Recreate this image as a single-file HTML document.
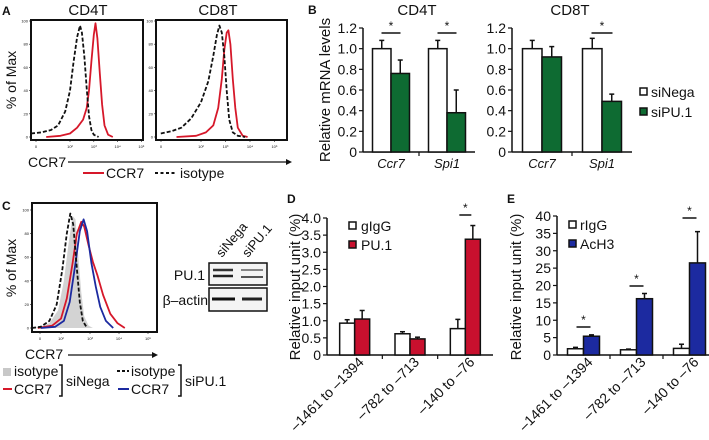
<!DOCTYPE html>
<html><head><meta charset="utf-8"><style>
html,body{margin:0;padding:0;background:#fff;}
svg{display:block;font-family:"Liberation Sans",Arial,sans-serif;}
</style></head><body>
<svg id="fig" width="709" height="440" viewBox="0 0 709 440" xmlns="http://www.w3.org/2000/svg"></svg>
<script>
// ---------- DATA ----------
const aCD4Iso=[[0.36,3],[0.8,4],[1.2,6],[1.5,10],[1.8,22],[2.0,40],[2.15,65],[2.3,86],[2.42,96],[2.5,90],[2.6,70],[2.7,42],[2.8,18],[2.9,6],[3.0,2],[3.2,0]];
const aCD4CCR7=[[1.0,0],[1.6,1],[2.0,3],[2.3,8],[2.55,15],[2.7,25],[2.8,40],[2.9,65],[3.0,88],[3.07,98],[3.15,85],[3.25,55],[3.35,28],[3.45,10],[3.6,2],[3.8,0]];
const aCD8Iso=[[0.36,3],[0.8,5],[1.2,8],[1.6,16],[2.0,30],[2.3,48],[2.5,70],[2.65,88],[2.75,96],[2.85,90],[2.95,70],[3.05,40],[3.15,15],[3.3,4],[3.5,1],[3.8,0]];
const aCD8CCR7=[[1.0,0],[1.8,1],[2.2,4],[2.5,10],[2.7,25],[2.85,50],[2.95,75],[3.05,90],[3.12,92],[3.2,80],[3.3,50],[3.4,25],[3.5,8],[3.7,1],[3.9,0]];
const cNegaIso=[[1.0,0],[1.3,1],[1.6,4],[1.9,15],[2.1,40],[2.25,70],[2.4,95],[2.5,92],[2.6,60],[2.7,30],[2.8,10],[2.95,2],[3.1,0]];
const cNegaCCR7=[[1.2,0],[1.7,2],[2.0,8],[2.2,25],[2.4,55],[2.55,80],[2.7,90],[2.8,86],[2.95,70],[3.1,56],[3.25,45],[3.45,28],[3.7,12],[3.95,4],[4.2,0]];
const cPUIso=[[1.0,0],[1.3,1],[1.6,6],[1.85,20],[2.05,50],[2.2,80],[2.32,97],[2.42,88],[2.55,50],[2.65,22],[2.75,6],[2.9,0]];
const cPUCCR7=[[1.3,0],[1.8,1],[2.1,6],[2.3,22],[2.5,55],[2.65,82],[2.78,92],[2.9,82],[3.05,55],[3.2,35],[3.35,18],[3.55,6],[3.8,0]];
const bGenes=["Ccr7","Spi1"];
const bCD4Nega=[1.0,1.0], bCD4NegaErr=[0.08,0.08];
const bCD4PU=[0.76,0.38], bCD4PUErr=[0.13,0.22];
const bCD8Nega=[1.0,1.0], bCD8NegaErr=[0.08,0.1];
const bCD8PU=[0.92,0.49], bCD8PUErr=[0.1,0.07];
const bTicks=["0","0.2","0.4","0.6","0.8","1.0","1.2"];
const regions=["\u20131461 to \u20131394","\u2013782 to \u2013713","\u2013140 to \u201376"];
const dIgG=[0.93,0.62,0.77], dIgGErr=[0.1,0.06,0.27];
const dPU=[1.05,0.47,3.38], dPUErr=[0.25,0.05,0.4];
const dTicks=["0","0.5","1.0","1.5","2.0","2.5","3.0","3.5","4.0"];
const eIgG=[1.8,1.5,1.9], eIgGErr=[0.4,0.2,1.2];
const eAc=[5.4,16.2,26.5], eAcErr=[0.4,1.5,9.0];
const eTicks=["0","5","10","15","20","25","30","35","40"];

// ---------- HELPERS ----------
const NS="http://www.w3.org/2000/svg", svg=document.getElementById('fig');
function mk(tag,attrs,parent){const e=document.createElementNS(NS,tag);for(const k in attrs)e.setAttribute(k,attrs[k]);(parent||svg).appendChild(e);return e;}
function txt(s,x,y,size,name,extra){const t=mk('text',Object.assign({x:x,y:y,'font-size':size,fill:'#111'},extra||{}));t.textContent=s;


return t;}
function line(x1,y1,x2,y2,name,w,col,dash){const l=mk('line',{x1:x1,y1:y1,x2:x2,y2:y2,stroke:col||'#111','stroke-width':w||1});if(dash)l.setAttribute('stroke-dasharray',dash);


return l;}
function rect(x,y,w,h,fill,name,sw){const r=mk('rect',{x:x,y:y,width:w,height:h,fill:fill,stroke:sw===0?'none':'#111','stroke-width':sw||1.5});


return r;}
const defs=mk('defs',{});

// ---------- HISTOGRAMS ----------
function histBox(bx,by,bw,bh,x0,dec,xOff,y0,y100,name){
  const cp=mk('clipPath',{id:'clip-'+name},defs);mk('rect',{x:bx,y:by,width:bw,height:bh},cp);
  const g=mk('g',{'clip-path':'url(#clip-'+name+')'});
  
  
  const sx=d=>x0+(d-2)*dec, sy=p=>y0-(y0-y100)*p/100;
  ['0','10²','10³','10⁴','10⁵'].forEach((l,i)=>{const x=i===0?x0-xOff:sx(i+1);
    line(x,by+bh,x,by+bh+2,name+'-xtick',0.6);txt(l,x,by+bh+8,4,name+'-xtick-label',{'text-anchor':'middle'});});
  ['0','20','40','60','80','100'].forEach((l,i)=>{const y=sy(i*20);line(bx-2,y,bx,y,name+'-ytick',0.6);txt(l,bx-3,y+1.5,4,name+'-ytick-label',{'text-anchor':'end'});});
  return {sx:sx,sy:sy,g:g,frame:()=>rect(bx,by,bw,bh,'none',name+'-frame',2)};
}
function curve(sc,data,col,name,dash,fill){
  let d='';data.forEach((p,i)=>{d+=(i?'L':'M')+sc.sx(p[0]).toFixed(1)+','+sc.sy(p[1]).toFixed(1);});
  if(fill){const f=mk('path',{d:d+'L'+sc.sx(data[data.length-1][0])+','+sc.sy(0)+'L'+sc.sx(data[0][0])+','+sc.sy(0)+'Z',fill:fill,stroke:'none'},sc.g);
    }
  if(col){const p=mk('path',{d:d,fill:'none',stroke:col,'stroke-width':1.8,'stroke-linejoin':'round'},sc.g);if(dash)p.setAttribute('stroke-dasharray',dash);
    }
}
// Panel A
txt('A',2,15,12,'panel-a-label',{'font-weight':'bold'});
txt('CD4T',88,15,15,'cd4t-hist-title',{'text-anchor':'middle'});
txt('CD8T',218,15,15,'cd8t-hist-title',{'text-anchor':'middle'});
txt('% of Max',16,80,14,'a-y-title',{'text-anchor':'middle',transform:'rotate(-90 16 80)'});
const s4=histBox(31,20,112,120,70,23.8,34,137,21,'cd4t-hist');
curve(s4,aCD4CCR7,'#d6182a','cd4t-ccr7-curve');
curve(s4,aCD4Iso,'#111','cd4t-isotype-curve','4,2');
s4.frame();
const s8=histBox(156,20,131,120,201,24.5,40,137,21,'cd8t-hist');
curve(s8,aCD8CCR7,'#d6182a','cd8t-ccr7-curve');
curve(s8,aCD8Iso,'#111','cd8t-isotype-curve','4,2');
s8.frame();
txt('CCR7',28,167,14,'a-x-title');
line(68,162,286,162,'a-x-arrow-line',1.2);
mk('path',{d:'M286,159L292,162L286,165Z',fill:'#111',});
line(83,173,104,173,'legend-ccr7-swatch',2,'#d6182a');txt('CCR7',106,178,14,'legend-ccr7-text');
line(155,173,175,173,'legend-isotype-swatch',2,'#111','3,2.5');txt('isotype',180,178,14,'legend-isotype-text');

// Panel C
txt('C',2,210,12,'panel-c-label',{'font-weight':'bold'});
txt('% of Max',16,268,14,'c-y-title',{'text-anchor':'middle',transform:'rotate(-90 16 268)'});
const sc=histBox(32,203,125,129,61,29,21,328,210,'c-hist');
curve(sc,cNegaIso,null,'c-sinega-isotype',null,'#d3d3d3');
curve(sc,cNegaCCR7,'#d6182a','c-sinega-ccr7-curve');
curve(sc,cPUCCR7,'#1c2aa0','c-sipu1-ccr7-curve');
curve(sc,cPUIso,'#111','c-sipu1-isotype-curve','4,2');
sc.frame();
txt('CCR7',25,359,14,'c-x-title');
line(68,355,152,355,'c-x-arrow-line',1.2);
mk('path',{d:'M152,352L158,355L152,358Z',fill:'#111',});
rect(3,368,8,8,'#c8c8c8','legend-c-iso-nega-swatch',0);txt('isotype',14,376,14,'legend-c-iso-nega-text');
line(3,389,12,389,'legend-c-ccr7-nega-swatch',2,'#d6182a');txt('CCR7',14,394,14,'legend-c-ccr7-nega-text');
mk('path',{d:'M59,365H62V396H59',fill:'none',stroke:'#111','stroke-width':1.5,});
txt('siNega',66,386,14,'legend-sinega-text');
line(117,371,129,371,'legend-c-iso-pu-swatch',2,'#111','3,2');txt('isotype',131,376,14,'legend-c-iso-pu-text');
line(118,389,129,389,'legend-c-ccr7-pu-swatch',2,'#1c2aa0');txt('CCR7',131,394,14,'legend-c-ccr7-pu-text');
mk('path',{d:'M178,365H181V396H178',fill:'none',stroke:'#111','stroke-width':1.5,});
txt('siPU.1',185,386,14,'legend-sipu1-text');
txt('siNega',222,258,13,'blot-sinega-label',{transform:'rotate(-50 222 258)'});
txt('siPU.1',248,258,13,'blot-sipu1-label',{transform:'rotate(-50 248 258)'});
rect(209,263,58,22,'#f4f4f4','blot-pu1-box',1.5);
rect(209,288,58,23,'#f4f4f4','blot-actin-box',1.5);
[[213,233,270,2.4,'#333'],[213,233,276,2.4,'#222'],[241,263,270,1.8,'#777'],[241,263,277,2,'#555'],[212,235,299,3,'#111'],[242,262,299,3,'#222']].forEach(b=>{
  line(b[0],b[2],b[1],b[2],'blot-band',b[3],b[4]);});
txt('PU.1',205,280,14,'blot-pu1-text',{'text-anchor':'end'});
txt('β–actin',208,305,14,'blot-actin-text',{'text-anchor':'end'});

// ---------- BAR CHARTS ----------
function barChart(o){
  const y=v=>o.y0-(o.y0-o.yTop)*v/o.vmax;
  line(o.ax,o.yTop,o.ax,o.y0,o.name+'-y-axis',1.5);
  line(o.ax,o.y0,o.axEnd,o.y0,o.name+'-x-axis',1.5);
  o.ticks.forEach((t,i)=>{const yy=y(o.vmax*i/(o.ticks.length-1));line(o.ax-4,yy,o.ax,yy,o.name+'-ytick',1.2);
    txt(t,o.ax-6,yy+5,o.fs||14,o.name+'-ytick-label',{'text-anchor':'end'});});
  const gw=(o.axEnd-o.ax)/o.cats.length;
  for(let i=1;i<o.cats.length;i++)line(o.ax+gw*i,o.y0,o.ax+gw*i,o.y0+4,o.name+'-xtick',1.2);
  o.cats.forEach((c,i)=>{const cx=o.ax+gw*(i+0.5);
    [[o.s1[0],o.s1[1],'#fff','-white'],[o.s2[0],o.s2[1],o.col,'-filled']].forEach((s,j)=>{
      const x=cx-o.bw+j*o.bw,v=s[0][i],e=s[1][i];
      line(x+o.bw/2,y(v),x+o.bw/2,y(v+e),o.name+'-errorbar',1.5);
      line(x+o.bw/2-2.5,y(v+e),x+o.bw/2+2.5,y(v+e),o.name+'-errorcap',1.5);
      rect(x,y(v),o.bw,o.y0-y(v),s[2],o.name+'-bar-'+c.replace(/[^A-Za-z0-9]/g,'')+s[3],1.5);});
    if(o.sig[i]){const sy=o.sig[i];line(cx-o.bw+9,sy,cx+o.bw-9,sy,o.name+'-sig-line',1.5);txt('*',cx,sy-3,12,o.name+'-sig-star',{'text-anchor':'middle'});}
    if(o.rot){txt(c,cx+10,o.y0+8,14,o.name+'-xlabel',{'text-anchor':'end',transform:'rotate(-45 '+(cx+10)+' '+(o.y0+8)+')'});}
    else txt(c,cx,o.y0+16,13,o.name+'-xlabel',{'text-anchor':'middle','font-style':'italic'});
  });
}
txt('B',308,14,12,'panel-b-label',{'font-weight':'bold'});
txt('CD4T',417,15,15,'b-cd4t-title',{'text-anchor':'middle'});
txt('CD8T',570,15,15,'b-cd8t-title',{'text-anchor':'middle'});
txt('Relative mRNA levels',330,90,15,'b-y-title',{'text-anchor':'middle',transform:'rotate(-90 330 90)'});
barChart({name:'b-cd4t',ax:363,axEnd:475,y0:152,yTop:28,vmax:1.2,ticks:bTicks,cats:bGenes,bw:18.5,s1:[bCD4Nega,bCD4NegaErr],s2:[bCD4PU,bCD4PUErr],col:'#0e6b32',sig:[33,33]});
barChart({name:'b-cd8t',ax:512,axEnd:632,y0:152,yTop:28,vmax:1.2,ticks:bTicks,cats:bGenes,bw:19.5,s1:[bCD8Nega,bCD8NegaErr],s2:[bCD8PU,bCD8PUErr],col:'#0e6b32',sig:[0,33]});
rect(640,88,7,7,'#fff','legend-sinega-swatch',1.5);txt('siNega',651,97,14,'legend-sinega-label');
rect(640,108,7,7,'#0e6b32','legend-sipu1-swatch',1.5);txt('siPU.1',651,117,14,'legend-sipu1-label');

txt('D',287,203,12,'panel-d-label',{'font-weight':'bold'});
txt('Relative input unit (%)',300,287,15,'d-y-title',{'text-anchor':'middle',transform:'rotate(-90 300 287)'});
barChart({name:'d-chip',ax:327,axEnd:493,y0:355,yTop:218,vmax:4,ticks:dTicks,cats:regions,bw:15,s1:[dIgG,dIgGErr],s2:[dPU,dPUErr],col:'#c8102e',sig:[0,0,215],rot:true});
rect(349,222,7,7,'#fff','legend-gigg-swatch',1.5);txt('gIgG',361,231,14,'legend-gigg-label');
rect(349,241,7,7,'#c8102e','legend-pu1-swatch',1.5);txt('PU.1',361,250,14,'legend-pu1-label');

txt('E',507,203,12,'panel-e-label',{'font-weight':'bold'});
txt('Relative input unit (%)',521,287,15,'e-y-title',{'text-anchor':'middle',transform:'rotate(-90 521 287)'});
barChart({name:'e-chip',ax:557,axEnd:716,y0:355,yTop:216,vmax:40,ticks:eTicks,cats:regions,bw:16,s1:[eIgG,eIgGErr],s2:[eAc,eAcErr],col:'#1c2aa0',sig:[327,286,218],rot:true});
rect(569,221,7,7,'#fff','legend-rigg-swatch',1.5);txt('rIgG',580,230,14,'legend-rigg-label');
rect(569,240,7,7,'#1c2aa0','legend-ach3-swatch',1.5);txt('AcH3',580,249,14,'legend-ach3-label');
</script>
</body></html>
